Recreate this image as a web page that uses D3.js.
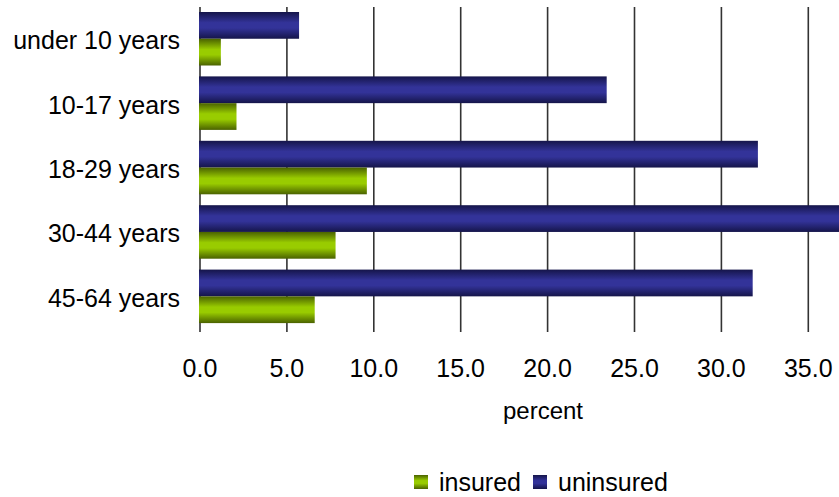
<!DOCTYPE html>
<html>
<head>
<meta charset="utf-8">
<script src="https://cdn.jsdelivr.net/npm/d3@7"></script>
<style>
  html, body { margin: 0; padding: 0; background: #fff; }
  svg { display: block; }
  text { font-family: "Liberation Sans", Arial, sans-serif; fill: #000; }
</style>
</head>
<body>
<svg id="chart" width="839" height="497"></svg>
<script>
const categories = ["under 10 years", "10-17 years", "18-29 years", "30-44 years", "45-64 years"];
const insured = [1.2, 2.1, 9.6, 7.8, 6.6];
const uninsured = [5.7, 23.4, 32.1, 37.5, 31.8];
const tickValues = [0, 5, 10, 15, 20, 25, 30, 35, 40];
const seriesNames = ["uninsured", "insured"];
const xTitle = "percent";

const svg = d3.select("#chart");

const x = d3.scaleLinear().domain([0, 40]).range([200, 200 + 40 * 17.38]);
const y = d3.scaleBand().domain(categories).range([7, 329]).padding(0);
const ySub = d3.scaleBand().domain(seriesNames).range([5, y.bandwidth() - 5.9]).padding(0);

const defs = svg.append("defs");
function grad(id, edge, mid) {
  const g = defs.append("linearGradient").attr("id", id)
    .attr("x1", 0).attr("y1", 0).attr("x2", 0).attr("y2", 1);
  g.append("stop").attr("offset", "0%").attr("stop-color", edge);
  g.append("stop").attr("offset", "40%").attr("stop-color", mid);
  g.append("stop").attr("offset", "60%").attr("stop-color", mid);
  g.append("stop").attr("offset", "100%").attr("stop-color", edge);
}
grad("gBlue", "#15154a", "#333399");
grad("gGreen", "#4a6200", "#99cc00");
const fills = { uninsured: "url(#gBlue)", insured: "url(#gGreen)" };

// gridlines
svg.append("g").selectAll("line").data(tickValues).join("line")
  .attr("x1", d => x(d)).attr("x2", d => x(d))
  .attr("y1", 7).attr("y2", 332)
  .attr("stroke", "#333").attr("stroke-width", 1.6);

// bars
const rows = categories.map((c, i) => ({ cat: c, uninsured: uninsured[i], insured: insured[i] }));
const grp = svg.append("g").selectAll("g").data(rows).join("g")
  .attr("transform", d => `translate(0,${y(d.cat)})`);
grp.selectAll("rect").data(d => seriesNames.map(s => ({ s, v: d[s] }))).join("rect")
  .attr("x", x(0) - 1)
  .attr("y", d => ySub(d.s))
  .attr("width", d => x(d.v) - x(0) + 1)
  .attr("height", ySub.bandwidth())
  .attr("fill", d => fills[d.s]);

// category labels
svg.append("g").selectAll("text").data(categories).join("text")
  .attr("x", 180).attr("y", d => y(d) + y.bandwidth() / 2 + 1)
  .attr("text-anchor", "end").attr("dominant-baseline", "central")
  .style("font-size", "25px").text(d => d);

// tick labels
svg.append("g").selectAll("text").data(tickValues).join("text")
  .attr("x", d => x(d)).attr("y", 377)
  .attr("text-anchor", "middle").style("font-size", "25px")
  .text(d => d3.format(".1f")(d));

// axis title
svg.append("text").attr("x", 543).attr("y", 419)
  .attr("text-anchor", "middle").style("font-size", "24px").text(xTitle);

// legend
const legendItems = [
  { name: "insured", fill: "url(#gGreen)", x: 414 },
  { name: "uninsured", fill: "url(#gBlue)", x: 533 }
];
const lg = svg.append("g").selectAll("g").data(legendItems).join("g");
lg.append("rect").attr("x", d => d.x).attr("y", 475).attr("width", 14).attr("height", 14)
  .attr("fill", d => d.fill);
lg.append("text").attr("x", d => d.x + 25).attr("y", 491)
  .style("font-size", "25px").text(d => d.name);
</script>
</body>
</html>
